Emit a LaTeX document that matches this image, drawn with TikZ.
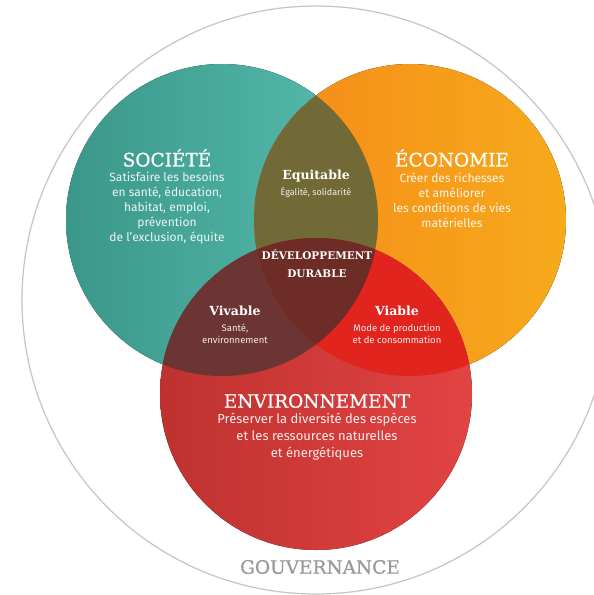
\documentclass[tikz,border=0pt]{standalone}
\usepackage{fontspec}
\setmainfont{Fira Sans}
\newfontfamily\slabfont[FakeBold=0.8]{DejaVu Serif}
\newfontfamily\slabbold{DejaVu Serif}
\definecolor{socteal}{HTML}{48B8A8}
\definecolor{ecoorange}{HTML}{F5A11E}
\definecolor{envred}{HTML}{E03A38}
\definecolor{equiolive}{HTML}{716A36}
\definecolor{vivmaroon}{HTML}{6C3432}
\definecolor{viared}{HTML}{E2241E}
\definecolor{ddbrown}{HTML}{6E2C27}
\definecolor{govgrey}{HTML}{C4C4C4}

\begin{document}
\begin{tikzpicture}[x=1pt,y=-1pt,
  title/.style={text=white,font=\slabfont\fontsize{18.5}{20}\selectfont},
  label/.style={text=white,font=\slabbold\bfseries\fontsize{12.5}{14}\selectfont},
  body/.style={text=white,text opacity=.9,align=center,inner sep=0pt,
    font=\fontsize{12}{15}\selectfont},
  small/.style={text=white,text opacity=.9,align=center,inner sep=0pt,
    font=\fontsize{9.5}{12}\selectfont}]
\useasboundingbox (0,0) rectangle (594,595);
\clip (0,0) rectangle (594,595);
% gouvernance
\draw[govgrey,line width=1.2pt] (316,300) circle[radius=294pt];
% the three circles
\fill[left color=socteal!82!black,right color=socteal!92!white] (222,220) circle[radius=156pt];
\fill[left color=ecoorange!85!red,right color=ecoorange!90!yellow] (410,220) circle[radius=156pt];
\fill[left color=envred!85!black,right color=envred!95!white] (316,394) circle[radius=156pt];
% overlaps
\begin{scope}
  \clip (222,220) circle[radius=156pt];
  \fill[equiolive] (410,220) circle[radius=156pt];
  \fill[vivmaroon] (316,394) circle[radius=156pt];
\end{scope}
\begin{scope}
  \clip (410,220) circle[radius=156pt];
  \fill[viared] (316,394) circle[radius=156pt];
  \clip (222,220) circle[radius=156pt];
  \fill[ddbrown] (316,394) circle[radius=156pt];
\end{scope}

\node[title] (soc) at (167,158) {SOCIÉTÉ};
\node[body] (socText) at (167,208) {Satisfaire les besoins\\en santé, éducation,\\habitat, emploi,\\prévention\\de l'exclusion, équite};
\node[title] (eco) at (452,158) {ÉCONOMIE};
\node[body] (ecoText) at (452,200) {Créer des richesses\\et améliorer\\les conditions de vies\\matérielles};
\node[title] (env) at (317,401) {ENVIRONNEMENT};
\node[body,font=\fontsize{13}{17}\selectfont] (envText) at (317,437) {Préserver la diversité des espèces\\et les ressources naturelles\\et énergétiques};

\node[label] (equi) at (316,176) {Equitable};
\node[small,font=\fontsize{9}{11}\selectfont] (equiText) at (316,192) {Égalité, solidarité};
\node[label] (viv) at (235,311) {Vivable};
\node[small] (vivText) at (235,334) {Santé,\\environnement};
\node[label] (via) at (397,311) {Viable};
\node[small] (viaText) at (397,334) {Mode de production\\et de consommation};
\node[label,align=center,font=\slabbold\bfseries\fontsize{10.5}{18}\selectfont] (dd) at (317,264) {DÉVELOPPEMENT\\DURABLE};

\node[title,text=black!40] (gov) at (320,567) {GOUVERNANCE};
\end{tikzpicture}
\end{document}
